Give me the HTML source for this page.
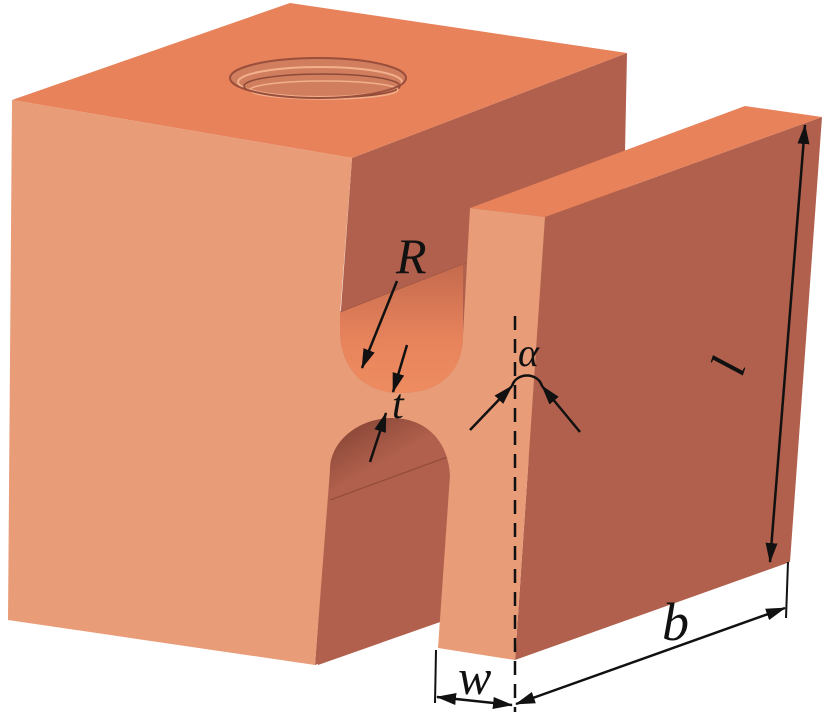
<!DOCTYPE html>
<html><head><meta charset="utf-8"><style>
html,body{margin:0;padding:0;background:#fff;}
svg{display:block;}
text{font-family:"Liberation Serif",serif;font-style:italic;fill:#111;}
</style></head><body>
<svg width="826" height="715" viewBox="0 0 826 715" xmlns="http://www.w3.org/2000/svg">
<defs>
<linearGradient id="cav" x1="0" y1="0" x2="0" y2="1">
<stop offset="0" stop-color="#C46A4E"/><stop offset="0.6" stop-color="#E8845C"/><stop offset="1" stop-color="#EE8C60"/>
</linearGradient>
<linearGradient id="arch" x1="0" y1="0" x2="0.3" y2="1">
<stop offset="0" stop-color="#7A3C2E"/><stop offset="0.3" stop-color="#B0604C"/><stop offset="1" stop-color="#B0604C"/>
</linearGradient>
<marker id="ahb" markerWidth="20" markerHeight="12" refX="19" refY="6" orient="auto" markerUnits="userSpaceOnUse" viewBox="0 0 20 12">
<path d="M0,0 L20,6 L0,12 Z" fill="#111"/></marker>
<marker id="ahs" markerWidth="20" markerHeight="12" refX="1" refY="6" orient="auto" markerUnits="userSpaceOnUse" viewBox="0 0 20 12">
<path d="M20,0 L0,6 L20,12 Z" fill="#111"/></marker>
</defs>
<polygon points="352,158 627,53 622,300 445,600 440,622 315,665" fill="#B0604C"/>
<polygon points="545,217 822,117 790,562 515,660" fill="#B0604C"/>
<polygon points="470,208 745,106 822,117 545,217" fill="#E8825A"/>
<polygon points="12,100 290,3 627,53 352,158" fill="#E8825A"/>
<ellipse cx="318" cy="78" rx="88" ry="20" fill="#D07E5E"/>
<ellipse cx="320" cy="82" rx="82" ry="15" fill="none" stroke="#F2B08C" stroke-width="2"/>
<ellipse cx="322" cy="86" rx="78" ry="12" fill="none" stroke="#8E4A38" stroke-width="1.5"/>
<ellipse cx="324" cy="90" rx="74" ry="9" fill="none" stroke="#F2B08C" stroke-width="1.5"/>
<ellipse cx="318" cy="78" rx="88" ry="20" fill="none" stroke="#9A4E3C" stroke-width="2"/>
<path d="M340,312 L340,330 C340,372 368,393 400,393 C440,393 463,372 463,335 L463,264 Z" fill="url(#cav)"/>
<line x1="340" y1="312" x2="468" y2="262" stroke="#A65A46" stroke-width="1"/>
<path d="M330,470 C330,440 360,418 392,418 C425,418 448,440 450,475 L440,622 L318,665 Z" fill="url(#arch)"/>
<line x1="330" y1="500" x2="450" y2="456" stroke="#8E4A38" stroke-width="1"/>
<path d="M12,100 L352,158 L340,315 L340,330 C340,372 368,393 400,393 C440,393 463,372 463,335 L470,208 L545,217 L515,660 L438,648 L450,475 C448,440 425,418 392,418 C360,418 330,440 330,470 L315,665 L8,620 Z" fill="#E89C78"/>
<line x1="515" y1="316" x2="515" y2="712" stroke="#111" stroke-width="2.5" stroke-dasharray="14,9"/>
<text x="396" y="273" font-size="50">R</text>
<line x1="397" y1="281" x2="362" y2="368" stroke="#111" stroke-width="2.5" marker-end="url(#ahb)"/>
<text x="392" y="418" font-size="42">t</text>
<line x1="407" y1="345" x2="393" y2="392" stroke="#111" stroke-width="2.5" marker-end="url(#ahb)"/>
<line x1="370" y1="462" x2="386" y2="413" stroke="#111" stroke-width="2.5" marker-end="url(#ahb)"/>
<text x="518" y="366" font-size="40">α</text>
<path d="M512,386 C516,372 538,372 542,386" fill="none" stroke="#111" stroke-width="2.5"/>
<line x1="470" y1="430" x2="512" y2="386" stroke="#111" stroke-width="2.5" marker-end="url(#ahb)"/>
<line x1="580" y1="432" x2="542" y2="386" stroke="#111" stroke-width="2.5" marker-end="url(#ahb)"/>
<line x1="770" y1="562" x2="805" y2="125" stroke="#111" stroke-width="2.5" marker-start="url(#ahs)" marker-end="url(#ahb)"/>
<text x="0" y="0" font-size="50" transform="translate(742,378) rotate(-72)">l</text>
<line x1="788" y1="562" x2="786" y2="618" stroke="#111" stroke-width="2"/>
<line x1="516" y1="704" x2="785" y2="608" stroke="#111" stroke-width="2.5" marker-start="url(#ahs)" marker-end="url(#ahb)"/>
<text x="662" y="640" font-size="54">b</text>
<line x1="436" y1="650" x2="435" y2="703" stroke="#111" stroke-width="2"/>
<line x1="437" y1="697" x2="512" y2="705" stroke="#111" stroke-width="2.5" marker-start="url(#ahs)" marker-end="url(#ahb)"/>
<text x="458" y="694" font-size="50">w</text>
</svg>
</body></html>
